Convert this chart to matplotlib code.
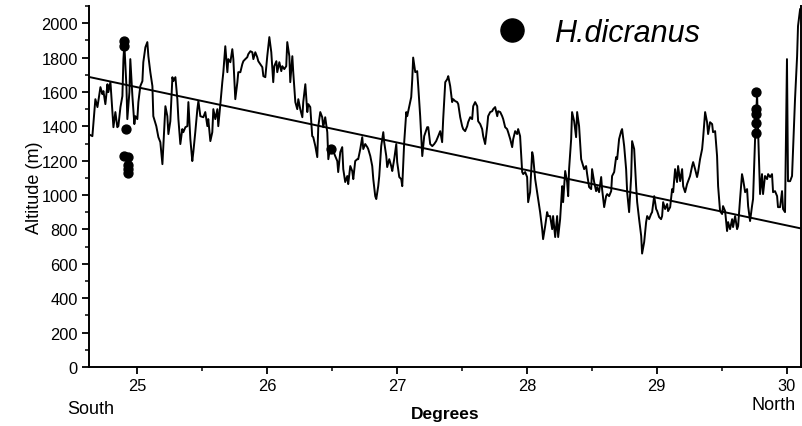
import matplotlib
matplotlib.use("Agg")
import matplotlib.pyplot as plt
from matplotlib.ticker import MultipleLocator
import numpy as np

plt.rcParams['font.family'] = ['Liberation Sans', 'DejaVu Sans']

# Altitude profile (degrees, metres)
profile_deg = [
    24.625, 24.656, 24.679, 24.695, 24.718, 24.733, 24.741, 24.756, 24.772, 24.779,
    24.795, 24.810, 24.818, 24.833, 24.848, 24.856, 24.872, 24.887, 24.895, 24.902,
    24.918, 24.925, 24.941, 24.948, 24.964, 24.979, 24.987, 25.002, 25.010, 25.025,
    25.041, 25.048, 25.064, 25.079, 25.087, 25.102, 25.118, 25.125, 25.148, 25.164,
    25.179, 25.195, 25.202, 25.218, 25.233, 25.241, 25.256, 25.272, 25.279, 25.295,
    25.310, 25.318, 25.333, 25.348, 25.356, 25.372, 25.387, 25.395, 25.410, 25.425,
    25.433, 25.448, 25.464, 25.472, 25.487,
    25.510, 25.525, 25.541, 25.548, 25.564, 25.579, 25.587, 25.602, 25.618, 25.625,
    25.641, 25.656, 25.664, 25.679, 25.695, 25.702, 25.718, 25.733, 25.741, 25.756,
    25.772, 25.779, 25.795, 25.810, 25.818, 25.833, 25.848, 25.856, 25.872, 25.887,
    25.895, 25.910, 25.925, 25.933, 25.948, 25.964, 25.972, 25.987, 26.002, 26.018,
    26.033, 26.048, 26.056, 26.072, 26.079, 26.095, 26.110, 26.118, 26.133, 26.148,
    26.156, 26.172, 26.179, 26.195, 26.202, 26.218, 26.233, 26.241, 26.256, 26.272,
    26.279, 26.295, 26.310, 26.318, 26.333, 26.348, 26.356, 26.372, 26.387,
    26.395, 26.410, 26.425, 26.433, 26.448, 26.464, 26.472, 26.487, 26.502, 26.510,
    26.525, 26.541, 26.548, 26.564, 26.579, 26.587, 26.602, 26.618, 26.625, 26.641,
    26.656, 26.664, 26.679, 26.695, 26.702, 26.718, 26.733, 26.741, 26.756, 26.772,
    26.779, 26.795, 26.810, 26.818, 26.833, 26.841, 26.856, 26.864, 26.879, 26.895,
    26.902, 26.918, 26.925, 26.941, 26.956, 26.964, 26.979, 26.995, 27.002, 27.018,
    27.033, 27.041, 27.056, 27.072, 27.079, 27.095, 27.110, 27.118, 27.125, 27.141,
    27.156, 27.164, 27.179, 27.195, 27.210, 27.233, 27.241, 27.256, 27.272, 27.287,
    27.302, 27.318, 27.333, 27.348, 27.356, 27.372, 27.387, 27.395, 27.410, 27.425,
    27.433, 27.448, 27.464, 27.472, 27.487, 27.502, 27.510, 27.525, 27.541, 27.548,
    27.564, 27.579, 27.587, 27.602, 27.618, 27.625, 27.641, 27.656, 27.664, 27.679,
    27.695, 27.702, 27.718, 27.733, 27.741, 27.756, 27.772, 27.779, 27.795, 27.810,
    27.818, 27.833, 27.848, 27.856, 27.872, 27.887, 27.895, 27.910, 27.925, 27.933,
    27.948, 27.964, 27.972, 27.987, 28.002, 28.010, 28.025, 28.041, 28.048, 28.064,
    28.079, 28.087, 28.102, 28.118, 28.125, 28.141, 28.156, 28.164,
    28.179, 28.195, 28.202, 28.218, 28.233, 28.241, 28.256, 28.272, 28.279, 28.295,
    28.310, 28.318, 28.325, 28.341, 28.348, 28.364, 28.379, 28.387, 28.402, 28.418,
    28.425, 28.441, 28.456, 28.464, 28.479, 28.495, 28.502, 28.518, 28.533, 28.541,
    28.556, 28.572, 28.579, 28.595, 28.610, 28.618, 28.633, 28.649, 28.656, 28.672,
    28.687, 28.695, 28.710, 28.726, 28.733, 28.749, 28.764, 28.772, 28.787, 28.803,
    28.810, 28.826, 28.841, 28.849, 28.864, 28.880, 28.887, 28.903, 28.918, 28.926,
    28.941, 28.956, 28.964, 28.980, 28.995, 29.003, 29.018, 29.033, 29.041,
    29.049, 29.064, 29.080, 29.087, 29.103, 29.118, 29.126, 29.141, 29.156, 29.164,
    29.180, 29.195, 29.203, 29.218, 29.233, 29.241, 29.256, 29.272, 29.280, 29.295,
    29.310, 29.318, 29.333, 29.349, 29.356, 29.372, 29.387, 29.395, 29.410, 29.426,
    29.433, 29.449, 29.464, 29.472, 29.487, 29.503, 29.510, 29.526, 29.541, 29.549,
    29.564, 29.580, 29.587, 29.603, 29.618, 29.626, 29.641, 29.656, 29.664, 29.680,
    29.695, 29.703, 29.718, 29.733, 29.741, 29.757, 29.772, 29.780, 29.795, 29.810,
    29.818, 29.833, 29.849, 29.857, 29.872, 29.887, 29.895, 29.910, 29.926, 29.933,
    29.949, 29.964, 29.972, 29.987, 30.002, 30.010, 30.026, 30.041, 30.049, 30.064,
    30.080, 30.087, 30.103,
]
profile_alt = [
    1355, 1343, 1558, 1512, 1628, 1587, 1605, 1529, 1645, 1599,
    1657, 1483, 1395, 1483, 1395, 1401, 1512, 1576, 1791, 1878,
    1634, 1442, 1599, 1791, 1576, 1413, 1459, 1442, 1541, 1634,
    1663, 1773, 1860, 1890, 1808, 1715, 1634, 1459, 1401, 1337,
    1308, 1180, 1285, 1517, 1459, 1355, 1430, 1686, 1663, 1686,
    1558, 1442, 1297, 1384, 1366, 1395, 1401, 1541, 1326, 1198,
    1250, 1366, 1500, 1547, 1459,
    1453, 1483, 1401, 1442, 1314, 1366, 1500, 1442, 1500, 1401,
    1529, 1657, 1715, 1866, 1715, 1791, 1773, 1849, 1791, 1558,
    1657, 1715, 1715, 1762, 1779, 1791, 1802, 1820, 1837, 1831,
    1791, 1831, 1802, 1779, 1762, 1744, 1692, 1686, 1808, 1919,
    1831, 1657, 1750, 1779, 1715, 1773, 1721, 1750, 1733, 1750,
    1890, 1808, 1657, 1808, 1715, 1541, 1500, 1558, 1500, 1453,
    1541, 1645, 1483, 1529, 1512, 1343, 1337, 1285, 1221,
    1401, 1483, 1453, 1395, 1453, 1366, 1209, 1285, 1268, 1256,
    1227, 1198, 1134, 1250, 1279, 1151, 1076, 1111, 1064, 1169,
    1140, 1093, 1198, 1209, 1209, 1268, 1337, 1268, 1297, 1279,
    1268, 1227, 1169, 1093, 994, 977, 1052, 1111, 1285, 1366,
    1308, 1227, 1163, 1209, 1169, 1140, 1209, 1297, 1192, 1105,
    1093, 1052, 1308, 1483, 1459, 1517, 1570, 1674, 1800, 1715,
    1721, 1634, 1459, 1227, 1343, 1395, 1395, 1297, 1285, 1297,
    1314, 1343, 1372, 1308, 1442, 1657, 1674, 1692, 1634, 1541,
    1558, 1547, 1541, 1529, 1453, 1401, 1384, 1372, 1401, 1424,
    1453, 1442, 1517, 1541, 1517, 1430, 1413, 1384, 1343, 1297,
    1401, 1459, 1483, 1488, 1500, 1512, 1459, 1488, 1483, 1459,
    1442, 1395, 1384, 1366, 1326, 1279, 1326, 1372, 1355, 1384,
    1343, 1134, 1122, 1134, 1105, 959, 1017, 1250, 1227, 1093,
    1017, 977, 901, 802, 744, 820, 901, 878,
    878, 802, 878, 756, 878, 756, 860, 1052, 959, 1140,
    1076, 994, 1151, 1326, 1483, 1430, 1337, 1483, 1401, 1209,
    1192, 1151, 1169, 1122, 1047, 1035, 1151, 1076, 1023, 1047,
    1017, 1105, 1035, 930, 994, 1006, 994, 1023, 1111, 1134,
    1221, 1209, 1326, 1372, 1384, 1285, 1151, 1017, 901, 1111,
    1314, 1268, 1052, 959, 860, 762, 660, 727, 843, 878,
    860, 890, 901, 994, 919, 907, 872, 860, 878,
    959, 919, 948, 907, 930, 1035, 1017, 1151, 1076, 1169,
    1081, 1151, 1052, 1017, 1064, 1081, 1111, 1169, 1192, 1151,
    1105, 1134, 1209, 1268, 1326, 1483, 1424, 1355, 1424, 1413,
    1366, 1372, 1227, 1052, 907, 890, 936, 907, 791, 843,
    802, 860, 814, 878, 802, 820, 977, 1122, 1093, 1017,
    1035, 936, 849, 936, 977, 1337, 1587, 1366, 1006, 1122,
    1006, 1111, 1093, 1122, 1105, 1122, 1017, 1023, 994, 930,
    930, 1023, 919, 901, 1791, 1081, 1081, 1111, 1268, 1558,
    1808, 1983, 2081,
]

# H. dicranus records
dots_deg = [24.902, 24.902, 24.918, 24.902, 24.930, 24.930, 24.930, 24.930,
            26.490, 29.765, 29.765, 29.765, 29.765, 29.765]
dots_alt = [1895, 1870, 1385, 1230, 1220, 1175, 1150, 1130,
            1270, 1600, 1500, 1470, 1420, 1360]

# Linear trend (alt = intercept + slope * deg)
trend_intercept = 5647.7
trend_slope = -160.8

x_limits = (24.63, 30.11)
y_limits = (0, 2100)
x_ticks = [25, 26, 27, 28, 29, 30]
y_ticks = [0, 200, 400, 600, 800, 1000, 1200, 1400, 1600, 1800, 2000]

fig = plt.figure(figsize=(8.03, 4.27), dpi=100)
ax = fig.add_axes([89/803, 59/427, 712/803, 361/427])

ax.plot(profile_deg, profile_alt, color='black', lw=1.4, zorder=2)
tx = np.array(x_limits)
ax.plot(tx, trend_intercept + trend_slope * tx, color='black', lw=1.4, zorder=3)
ax.plot(dots_deg, dots_alt, 'o', color='black', ms=6.4, ls='none', zorder=4,
        label='H.dicranus')

ax.set_xlim(*x_limits)
ax.set_ylim(*y_limits)
ax.set_xticks(x_ticks)
ax.set_yticks(y_ticks)
ax.xaxis.set_minor_locator(MultipleLocator(0.5))
ax.yaxis.set_minor_locator(MultipleLocator(100))
ax.tick_params(which='major', direction='out', length=5, width=1.3, labelsize=11.8, pad=3)
ax.tick_params(which='minor', direction='out', length=3, width=1.1)

for s in ['left', 'bottom', 'right']:
    ax.spines[s].set_linewidth(1.4)
ax.spines['top'].set_visible(False)

ax.set_ylabel('Altitude (m)', fontsize=13, labelpad=-1.5)
ax.set_xlabel('Degrees', fontsize=12.5, fontweight='bold', labelpad=9)

fig.text(67/803, 1 - 410/427, 'South', fontsize=13, ha='left', va='center')
fig.text(796/803, 1 - 406/427, 'North', fontsize=13, ha='right', va='center')

leg = ax.legend(loc='center left', bbox_to_anchor=(0.572, 0.925), frameon=False,
                markerscale=2.6, handlelength=1.0, handletextpad=0.9, borderpad=0,
                borderaxespad=0, prop={'size': 22, 'style': 'italic'})

fig.savefig('out.png', dpi=100)
